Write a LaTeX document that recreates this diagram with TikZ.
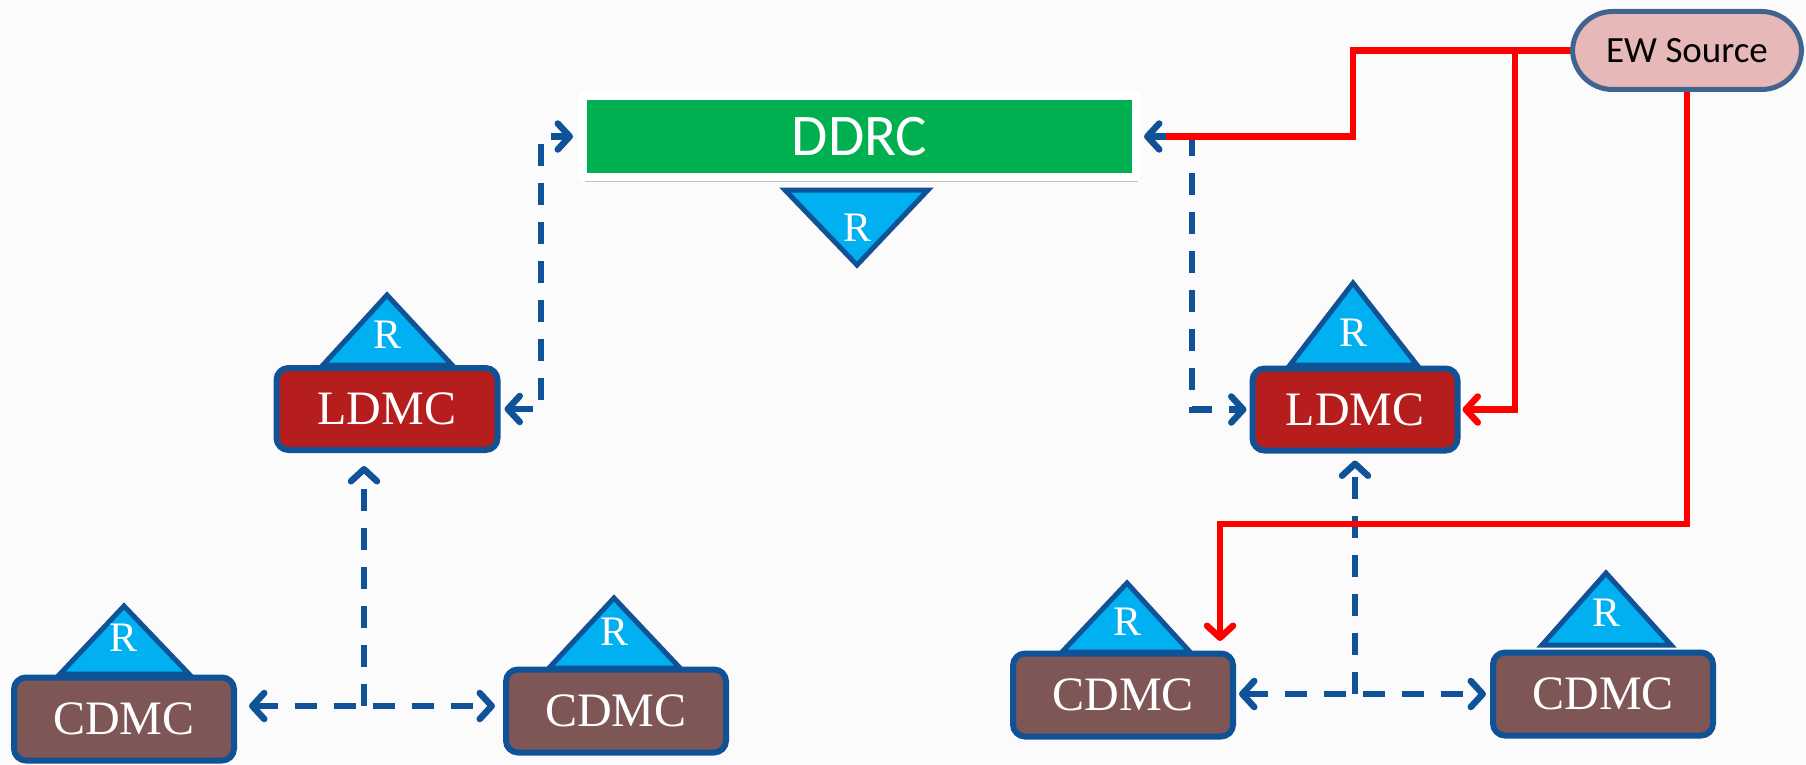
\documentclass[tikz,border=0pt]{standalone}
\usepackage{fontspec}
\setmainfont{Liberation Serif}
\newfontfamily\carlito{Carlito}
\usetikzlibrary{arrows.meta,shadows}
\definecolor{bblue}{RGB}{16,82,150}
\definecolor{lineblue}{RGB}{15,82,152}
\definecolor{ldmcred}{RGB}{182,30,30}
\definecolor{cdmcbrown}{RGB}{126,86,86}
\definecolor{tricyan}{RGB}{0,176,240}
\definecolor{ddrcgreen}{RGB}{0,176,80}
\definecolor{ewfill}{RGB}{230,184,183}
\definecolor{ewborder}{RGB}{65,100,143}
\definecolor{redline}{RGB}{255,0,0}
\definecolor{bgcol}{RGB}{251,251,251}
\begin{document}
\begin{tikzpicture}[x=1pt,y=-1pt,
  >={Straight Barb[length=12pt,width=26pt,round]},
  box/.style={draw=bblue,line width=6pt,rounded corners=12pt,text=white,
    font=\fontsize{48}{50}\selectfont,inner sep=0pt},
  ldmc/.style={box,fill=ldmcred,minimum height=82pt},
  cdmc/.style={box,fill=cdmcbrown,minimum width=220pt,minimum height=83pt},
  tri/.style={draw=bblue,line width=5pt,fill=tricyan,line join=miter},
  rlab/.style={text=white,font=\fontsize{42}{44}\selectfont,inner sep=0pt},
  bd/.style={draw=lineblue,line width=6.5pt,dash pattern=on 22pt off 17pt},
  rd/.style={draw=redline,line width=6.5pt}
]
\useasboundingbox[fill=bgcol] (0,0) rectangle (1806,765);

% DDRC
\node[draw=white,line width=8pt,fill=ddrcgreen,minimum width=553pt,minimum height=81pt,
  inner sep=0pt,text=white,font=\carlito\fontsize{59}{60}\selectfont,
  drop shadow={opacity=0.45,shadow xshift=2pt,shadow yshift=-5pt}] (DDRC) at (859.5,136.5) {DDRC};
\draw[tri] (785,190) -- (928,190) -- (857,265) -- cycle;
\node[rlab] (rD) at (857,228) {R};

% EW Source
\node[draw=ewborder,line width=5pt,fill=ewfill,rounded corners=40pt,minimum width=229pt,
  minimum height=78pt,inner sep=0pt,font=\carlito\fontsize{37}{38}\selectfont] (EW) at (1687,50.5) {EW Source};

% LDMC boxes
\node[ldmc,minimum width=221pt] (LL) at (387,409) {LDMC};
\draw[tri] (323,365) -- (452,365) -- (387,295) -- cycle;
\node[rlab] (rLL) at (388,335) {R};

\node[ldmc,minimum width=205pt] (RL) at (1355,409.5) {LDMC};
\draw[tri] (1290,365) -- (1417,365) -- (1353,283) -- cycle;
\node[rlab] (rRL) at (1353,333) {R};

% CDMC boxes
\node[cdmc] (CL) at (124,719) {CDMC};
\draw[tri] (60,674) -- (189,674) -- (124,606) -- cycle;
\node[rlab] (rCL) at (124,638) {R};

\node[cdmc] (CM) at (616,711) {CDMC};
\draw[tri] (549,668) -- (680,668) -- (614,598) -- cycle;
\node[rlab] (rCM) at (614,632) {R};

\node[cdmc] (C1) at (1123,695) {CDMC};
\draw[tri] (1062,652) -- (1190,652) -- (1127,583) -- cycle;
\node[rlab] (rC1) at (1127,622) {R};

\node[cdmc] (C2) at (1603,694) {CDMC};
\draw[tri] (1542,645) -- (1671,645) -- (1606,573) -- cycle;
\node[rlab] (rC2) at (1606,613) {R};

% junctions
\coordinate (jL) at (364,706);
\coordinate (jR) at (1355,694);
\coordinate (r3) at (1220,641);

% blue dashed connectors
\draw[bd,<->,shorten <=4pt,shorten >=6pt] (LL.east) -- (541,409) |- (DDRC.west);
\draw[bd,->,shorten >=13pt] (jL) -- (jL |- LL.south);
\draw[bd,<->,shorten <=12pt,shorten >=8pt] (CL.east |- jL) -- (CM.west |- jL);

\draw[bd,<->,shorten <=4pt,shorten >=3pt] (DDRC.east) -- (1192,136.5) |- (RL.west);
\draw[bd,->,shorten >=7pt] (jR) -- (jR |- RL.south);
\draw[bd,<->,shorten <=3pt,shorten >=4pt] (C1.east |- jR) -- (C2.west |- jR);

% red connectors
\draw[rd,line join=miter] (EW.west) -- (1353,50.5) -- (1353,136.5) -- (1166,136.5);
\draw[rd,->,shorten >=2pt] (1515,50.5) |- (RL.east);
\draw[rd,->] (EW.south) -- ++(0,432) -| (r3);
\end{tikzpicture}
\end{document}
